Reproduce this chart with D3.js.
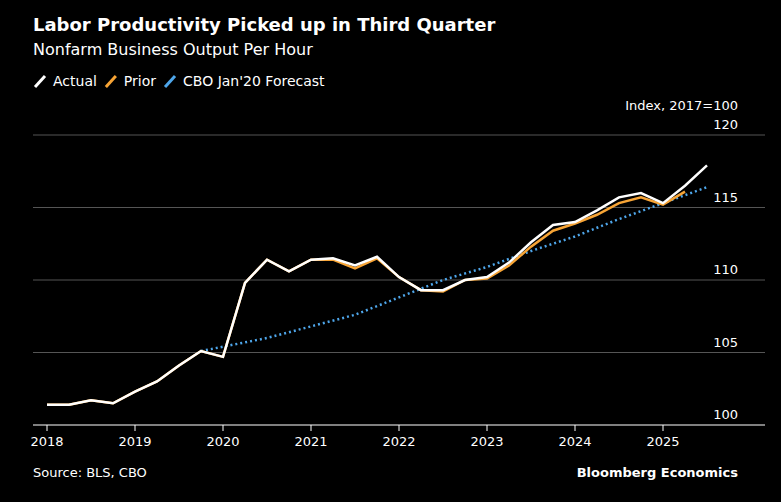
<!DOCTYPE html><html><head><meta charset="utf-8">
<script src="https://cdn.jsdelivr.net/npm/d3@7"></script>
<style>body{margin:0;background:#000}svg{display:block;font-family:"DejaVu Sans",sans-serif}</style></head><body>
<svg id="c" width="781" height="502"></svg>
<script>
const actualStart=2018;
const actual=[101.4,101.4,101.7,101.5,102.3,103.0,104.1,105.1,104.7,109.8,111.4,110.6,111.4,111.5,111.0,111.6,110.2,109.3,109.3,110.0,110.2,111.2,112.6,113.8,114.0,114.8,115.7,116.0,115.3,116.5,117.9];
const prior=[101.4,101.4,101.7,101.5,102.3,103.0,104.1,105.1,104.7,109.8,111.4,110.6,111.4,111.4,110.8,111.5,110.2,109.3,109.2,110.0,110.1,111.0,112.3,113.4,113.9,114.5,115.3,115.7,115.2,116.1];
const cboX=[2019.75,2020,2020.5,2021,2021.5,2022,2022.5,2023,2023.5,2024,2024.5,2025,2025.5];
const cboY=[105.1,105.4,106.0,106.8,107.6,108.8,110.0,110.9,112.0,113.0,114.2,115.3,116.4];
const yTicks=[100,105,110,115,120];
const xTicks=[2018,2019,2020,2021,2022,2023,2024,2025];
const svg=d3.select("#c");
const x=d3.scaleLinear().domain([2018,2025]).range([47,663]);
const y=d3.scaleLinear().domain([100,120]).range([425,135]);
svg.append("text").attr("x",33).attr("y",31).attr("fill","#fff").attr("font-size",18).attr("font-weight","bold").text("Labor Productivity Picked up in Third Quarter");
svg.append("text").attr("x",33).attr("y",55).attr("fill","#fff").attr("font-size",16).text("Nonfarm Business Output Per Hour");
const leg=[["Actual","#fff"],["Prior","#f7a435"],["CBO Jan'20 Forecast","#4ea6ea"]];
let lx=35;
leg.forEach(([t,c])=>{svg.append("line").attr("x1",lx).attr("y1",87).attr("x2",lx+10).attr("y2",76).attr("stroke",c).attr("stroke-width",3);
 const tx=svg.append("text").attr("x",lx+18).attr("y",86).attr("fill","#fff").attr("font-size",14).text(t);
 lx+=tx.node().getComputedTextLength()+27;});
svg.append("text").attr("x",738).attr("y",110).attr("text-anchor","end").attr("fill","#fff").attr("font-size",13).text("Index, 2017=100");
yTicks.forEach(v=>{ if(v>100) svg.append("line").attr("x1",33).attr("x2",765).attr("y1",y(v)).attr("y2",y(v)).attr("stroke","#555").attr("stroke-width",1);
 svg.append("text").attr("x",738).attr("y",y(v)-6).attr("text-anchor","end").attr("fill","#fff").attr("font-size",13).text(v);});
svg.append("line").attr("x1",33).attr("x2",765).attr("y1",425).attr("y2",425).attr("stroke","#fff");
xTicks.forEach(v=>{svg.append("line").attr("x1",x(v)).attr("x2",x(v)).attr("y1",425).attr("y2",431).attr("stroke","#fff");
 svg.append("text").attr("x",x(v)).attr("y",446).attr("text-anchor","middle").attr("fill","#fff").attr("font-size",13).text(v);});
const line=d3.line().x(d=>x(d[0])).y(d=>y(d[1]));
const q=arr=>arr.map((v,i)=>[actualStart+i/4,v]);
svg.append("path").attr("d",line(cboX.map((v,i)=>[v,cboY[i]]))).attr("fill","none").attr("stroke","#4ea6ea").attr("stroke-width",2.5).attr("stroke-dasharray","2,3");
svg.append("path").attr("d",line(q(prior))).attr("fill","none").attr("stroke","#f7a435").attr("stroke-width",2.5);
svg.append("path").attr("d",line(q(actual))).attr("fill","none").attr("stroke","#fff").attr("stroke-width",2.5);
svg.append("text").attr("x",33).attr("y",477).attr("fill","#fff").attr("font-size",13).text("Source: BLS, CBO");
svg.append("text").attr("x",738).attr("y",477).attr("text-anchor","end").attr("fill","#fff").attr("font-size",13).attr("font-weight","bold").text("Bloomberg Economics");
</script></body></html>
